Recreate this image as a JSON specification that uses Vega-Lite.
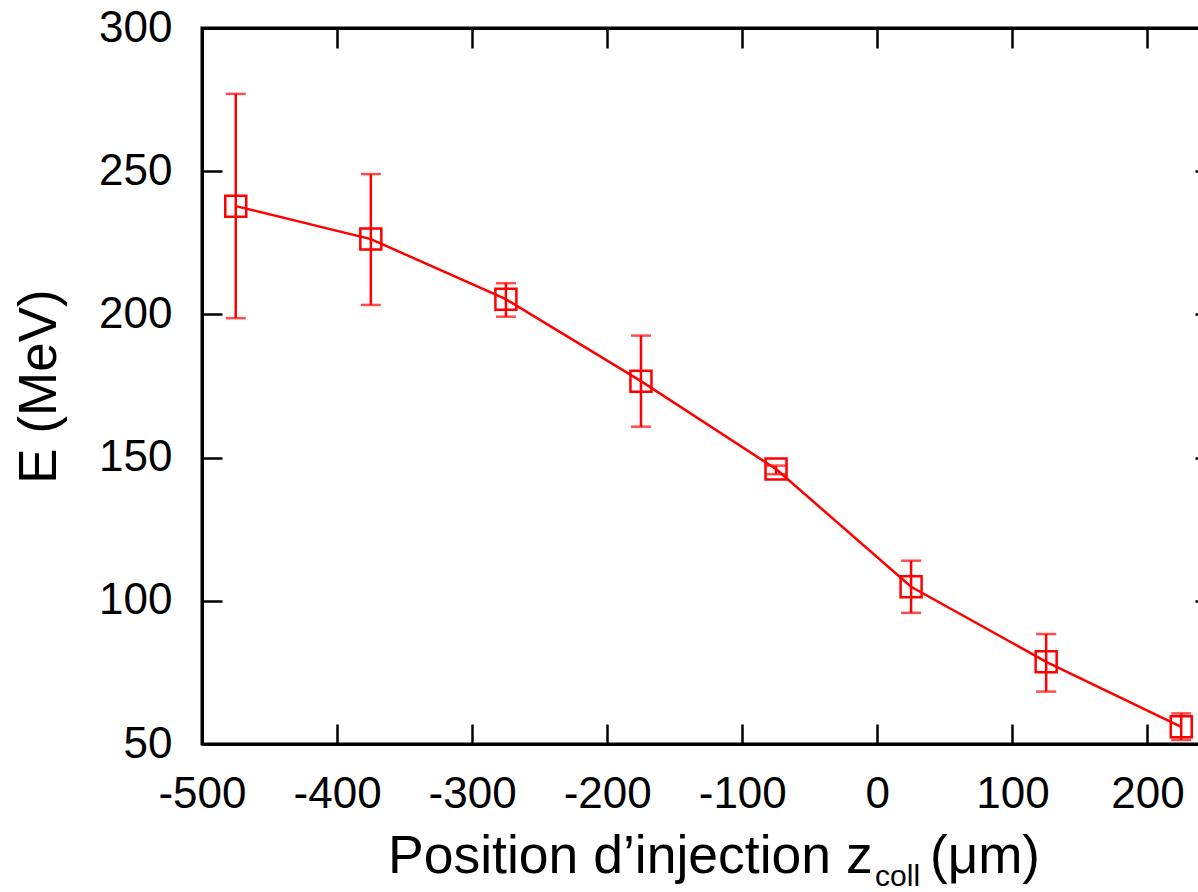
{
  "$schema": "https://vega.github.io/schema/vega-lite/v6.json",
  "width": 1013,
  "height": 716,
  "autosize": "none",
  "padding": {"left": 202, "top": 28, "right": 0, "bottom": 148},
  "background": "white",
  "config": {
    "view": {"stroke": "black", "strokeWidth": 3},
    "axis": {
      "domainColor": "black", "domainWidth": 3,
      "tickColor": "black", "tickWidth": 2.5, "tickSize": -20,
      "labelFont": "Liberation Sans", "labelFontSize": 44, "labelColor": "black",
      "grid": false,
      "titleFont": "Liberation Sans", "titleFontWeight": "normal", "titleFontSize": 53, "titleColor": "black"
    },
    "text": {"font": "Liberation Sans", "color": "black"}
  },
  "datasets": {
    "pts": [
      {"z": -475, "E": 237.8, "low": 198.7, "high": 277.0},
      {"z": -375, "E": 226.3, "low": 203.3, "high": 249.0},
      {"z": -275, "E": 205.3, "low": 199.2, "high": 210.9},
      {"z": -175, "E": 176.7, "low": 160.8, "high": 192.6},
      {"z": -75, "E": 146.0, "low": 144.2, "high": 147.2},
      {"z": 25, "E": 104.9, "low": 95.8, "high": 114.0},
      {"z": 125, "E": 78.7, "low": 68.3, "high": 88.4},
      {"z": 225, "E": 56.0, "low": 51.4, "high": 60.7}
    ]
  },
  "resolve": {"axis": {"x": "independent", "y": "independent"}},
  "layer": [
    {
      "data": {"name": "pts"},
      "mark": {"type": "point", "opacity": 0},
      "encoding": {
        "x": {"field": "z", "type": "quantitative", "scale": {"domain": [-500, 250], "nice": false},
              "axis": {"orient": "top", "labels": false, "title": null, "values": [-500, -400, -300, -200, -100, 0, 100, 200]}},
        "y": {"field": "E", "type": "quantitative", "scale": {"domain": [50, 300], "nice": false, "zero": false},
              "axis": {"orient": "right", "labels": false, "title": null, "values": [50, 100, 150, 200, 250, 300]}}
      }
    },
    {
      "data": {"name": "pts"},
      "mark": {"type": "rule", "color": "#ff0000", "strokeWidth": 2.5},
      "encoding": {
        "x": {"field": "z", "type": "quantitative", "scale": {"domain": [-500, 250], "nice": false}, "axis": null},
        "y": {"field": "low", "type": "quantitative", "scale": {"domain": [50, 300], "nice": false, "zero": false}, "axis": null},
        "y2": {"field": "high"}
      }
    },
    {
      "data": {"name": "pts"},
      "mark": {"type": "tick", "color": "#ff0000", "orient": "horizontal", "size": 20, "thickness": 2.5},
      "encoding": {
        "x": {"field": "z", "type": "quantitative", "scale": {"domain": [-500, 250], "nice": false}, "axis": null},
        "y": {"field": "low", "type": "quantitative", "scale": {"domain": [50, 300], "nice": false, "zero": false}, "axis": null}
      }
    },
    {
      "data": {"name": "pts"},
      "mark": {"type": "tick", "color": "#ff0000", "orient": "horizontal", "size": 20, "thickness": 2.5},
      "encoding": {
        "x": {"field": "z", "type": "quantitative", "scale": {"domain": [-500, 250], "nice": false}, "axis": null},
        "y": {"field": "high", "type": "quantitative", "scale": {"domain": [50, 300], "nice": false, "zero": false}, "axis": null}
      }
    },
    {
      "data": {"name": "pts"},
      "mark": {"type": "line", "color": "#ff0000", "strokeWidth": 2.5},
      "encoding": {
        "x": {"field": "z", "type": "quantitative", "scale": {"domain": [-500, 250], "nice": false},
              "axis": {"orient": "bottom", "title": null, "labelPadding": 48, "values": [-500, -400, -300, -200, -100, 0, 100, 200], "labelFlush": false, "labelOverlap": false,
                       "labelExpr": "replace(datum.label, '\u2212', '-')"}},
        "y": {"field": "E", "type": "quantitative", "scale": {"domain": [50, 300], "nice": false, "zero": false},
              "axis": {"orient": "left", "title": "E (MeV)", "labelPadding": 50, "values": [50, 100, 150, 200, 250, 300], "labelFlush": false, "labelOverlap": false,
                       "titleX": -163, "titleY": 358, "titleAngle": -90, "titleAlign": "center", "titleBaseline": "middle"}}
      }
    },
    {
      "data": {"name": "pts"},
      "mark": {"type": "point", "shape": "square", "filled": false, "color": "#ff0000", "size": 441, "strokeWidth": 2.5, "opacity": 1},
      "encoding": {
        "x": {"field": "z", "type": "quantitative", "scale": {"domain": [-500, 250], "nice": false}, "axis": null},
        "y": {"field": "E", "type": "quantitative", "scale": {"domain": [50, 300], "nice": false, "zero": false}, "axis": null}
      }
    },
    {
      "data": {"values": [{"label": "Position d’injection z"}]},
      "mark": {"type": "text", "align": "left", "baseline": "alphabetic", "fontSize": 53.5},
      "encoding": {
        "x": {"datum": -362.3, "type": "quantitative", "scale": {"domain": [-500, 250], "nice": false}, "axis": null},
        "y": {"datum": 5, "type": "quantitative", "scale": {"domain": [50, 300], "nice": false, "zero": false}, "axis": null},
        "text": {"field": "label"}
      }
    },
    {
      "data": {"values": [{"label": "coll"}]},
      "mark": {"type": "text", "align": "left", "baseline": "alphabetic", "fontSize": 30},
      "encoding": {
        "x": {"datum": -1.7, "type": "quantitative", "scale": {"domain": [-500, 250], "nice": false}, "axis": null},
        "y": {"datum": 0.3, "type": "quantitative", "scale": {"domain": [50, 300], "nice": false, "zero": false}, "axis": null},
        "text": {"field": "label"}
      }
    },
    {
      "data": {"values": [{"label": "(μm)"}]},
      "mark": {"type": "text", "align": "left", "baseline": "alphabetic", "fontSize": 53},
      "encoding": {
        "x": {"datum": 39, "type": "quantitative", "scale": {"domain": [-500, 250], "nice": false}, "axis": null},
        "y": {"datum": 5, "type": "quantitative", "scale": {"domain": [50, 300], "nice": false, "zero": false}, "axis": null},
        "text": {"field": "label"}
      }
    }
  ]
}
